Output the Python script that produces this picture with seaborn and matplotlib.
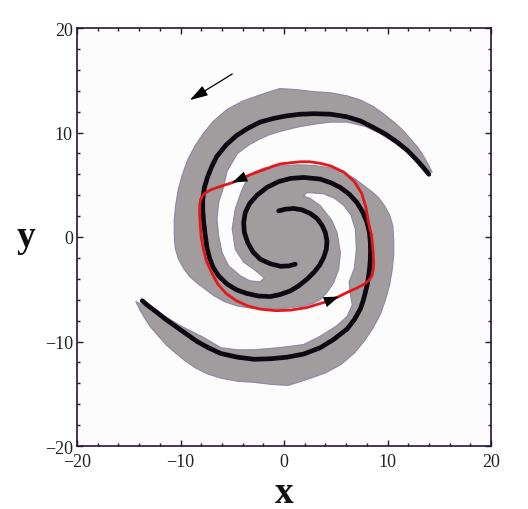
import numpy as np
import pandas as pd
import matplotlib
matplotlib.use("Agg")
import matplotlib.pyplot as plt
from matplotlib.ticker import MultipleLocator
import seaborn as sns

# ---------------- data ----------------
# spiral arm A (black), from the centre outward
arm_a_x = [-0.52, 0.13, 0.93, 1.74, 2.54, 3.19, 3.67, 3.99, 4.15, 4.09, 3.83, 3.44, 2.93, 2.22,
           1.41, 0.61, -0.36, -1.32, -2.45, -3.6, -4.6, -5.5, -6.32, -6.85, -7.2, -7.45, -7.6,
           -7.75, -7.85, -7.85, -7.7, -7.4, -7.0, -6.5, -5.6, -4.6, -3.5, -2.3, -1.0, 0.3, 1.6,
           2.9, 4.5, 6.1, 7.4, 8.6, 9.8, 10.9, 11.9, 12.8, 13.5, 14.0]
arm_a_y = [2.50, 2.66, 2.73, 2.60, 2.25, 1.77, 1.13, 0.43, -0.37, -1.17, -1.96, -2.70, -3.34, -4.04,
           -4.68, -5.16, -5.5, -5.7, -5.65, -5.4, -5.05, -4.5, -3.72, -2.9, -2.0, -1.0, 0.1,
           1.3, 2.5, 3.6, 4.7, 5.7, 6.7, 7.7, 8.8, 9.7, 10.4, 11.0, 11.35, 11.6, 11.75,
           11.8, 11.75, 11.5, 11.1, 10.5, 9.85, 9.1, 8.3, 7.4, 6.6, 6.0]
# spiral arm B (black), from the centre outward
arm_b_x = [1.09, 0.45, -0.36, -1.32, -2.29, -3.0, -3.51, -3.83, -3.9, -3.74, -3.32, -2.61, -1.64,
           -0.52, 0.61, 1.9, 3.5, 4.5, 5.44, 6.3, 7.05, 7.6, 8.02, 8.25, 8.34, 8.36, 8.34, 8.28,
           8.18, 8.05, 7.86, 7.65, 7.37, 6.8, 6.1, 4.8, 3.5, 1.9, 0.3, -1.3, -2.9, -4.5, -6.1,
           -7.3, -8.4, -9.4, -10.4, -11.4, -12.3, -13.1, -13.7]
arm_b_y = [-2.6, -2.77, -2.8, -2.56, -2.13, -1.43, -0.53, 0.43, 1.39, 2.35, 3.2, 4.0, 4.75,
           5.3, 5.6, 5.7, 5.54, 5.2, 4.74, 4.1, 3.3, 2.4, 1.39, 0.45, -0.5, -1.3, -2.13, -2.9,
           -3.72, -4.5, -5.3, -6.1, -6.9, -7.9, -8.8, -9.8, -10.6, -11.2, -11.5, -11.65, -11.7,
           -11.5, -11.15, -10.6, -10.0, -9.3, -8.6, -7.9, -7.2, -6.6, -6.1]

# grey band around arm A: outer edge (tip -> centre) and inner edge (centre -> tip)
band_a_out_x = [14.3, 13.9, 13.5, 12.9, 12.2, 11.4, 10.6, 9.6, 8.6, 7.4, 6.1, 4.5, 2.9, 1.2, -0.4,
                -2.3, -4.0, -5.5, -6.8, -7.8, -8.6, -9.3, -9.8, -10.2, -10.45, -10.6, -10.6, -10.5,
                -10.2, -9.7, -9.1, -8.4, -7.6, -6.8, -5.7, -4.5, -2.9, -1.3, 0.3, 1.9, 2.8, 3.5,
                4.15, 4.8, 5.28, 5.44, 5.12, 4.6, 3.5, 2.5, 1.9]
band_a_out_y = [6.2, 7.0, 7.7, 8.6, 9.4, 10.3, 11.0, 11.8, 12.5, 13.1, 13.5, 13.8, 13.9, 14.1, 14.2,
                13.6, 13.0, 12.2, 11.1, 9.9, 8.7, 7.4, 6.0, 4.6, 3.1, 1.7, 0.3, -1.1,
                -2.1, -3.0, -3.8, -4.4, -5.0, -5.6, -6.2, -6.6, -6.85, -6.9, -6.8, -6.6, -6.35, -6.0,
                -5.3, -4.36, -3.08, -1.48, 0.43, 1.6, 3.0, 3.7, 3.9]
band_a_in_x = [-1.9, -2.3, -3.3, -4.22, -5.35, -5.99, -6.32, -6.48, -6.32, -5.9, -5.5, -4.5, -3.4,
               -2.3, -1.4, -0.4, 1.2, 2.9, 4.5, 6.1, 7.8, 9.3, 10.6, 11.9, 13.1, 14.3]
band_a_in_y = [-3.9, -4.3, -4.2, -3.72, -2.76, -1.5, 0.1, 1.7, 3.3, 4.6, 6.3, 8.0, 8.8,
               9.4, 9.8, 10.1, 10.5, 10.8, 11.0, 11.0, 10.6, 9.9, 9.1, 8.2, 6.9, 6.2]
# grey band around arm B
band_b_out_x = [-14.3, -13.9, -13.5, -12.9, -12.2, -11.4, -10.6, -9.6, -8.6, -7.4, -6.1, -4.5, -2.9,
                -1.2, 0.4, 2.3, 4.0, 5.5, 6.8, 7.8, 8.6, 9.3, 9.8, 10.2, 10.45, 10.6, 10.6, 10.5,
                10.2, 9.7, 9.1, 8.4, 7.6, 6.8, 5.7, 4.5, 2.9, 1.3, -0.3, -1.9, -2.9, -3.5,
                -4.1, -4.7, -5.0, -4.7, -3.9, -2.9, -1.9]
band_b_out_y = [-6.2, -7.0, -7.7, -8.6, -9.4, -10.3, -11.0, -11.8, -12.5, -13.1, -13.5, -13.8, -13.9,
                -14.1, -14.2, -13.6, -13.0, -12.2, -11.1, -9.9, -8.7, -7.4, -6.0, -4.6, -3.1, -1.7,
                -0.3, 1.1, 2.1, 3.0, 3.8, 4.4, 5.0, 5.6, 6.2, 6.6, 6.85, 6.9, 6.8, 6.6, 6.2, 5.7,
                4.4, 2.7, 0.8, -1.2, -2.4, -3.1, -3.9]
band_b_in_x = [1.9, 2.2, 3.8, 4.9, 5.8, 6.47, 6.9, 7.0, 6.8, 6.3, 6.4, 6.6, 6.1, 5.1, 3.5, 1.9,
               -0.5, -2.9, -4.5, -6.1, -7.8, -10.0, -12.0, -14.3]
band_b_in_y = [3.9, 4.25, 4.15, 3.7, 3.0, 2.1, 0.75, -1.17, -3.0, -4.3, -5.4, -6.5, -7.6, -8.5,
               -9.5, -10.3, -10.6, -10.8, -10.8, -10.6, -9.6, -8.5, -7.3, -6.2]

# red closed orbit (counter-clockwise)
orbit_x = [8.45, 8.2, 7.9, 7.5, 6.8, 5.8, 4.5, 3.5, 2.5, 1.6, 0.6, -0.3, -1.0, -1.64, -2.5,
           -3.3, -4.2, -5.0, -5.8, -6.5, -7.0, -7.4, -7.8, -8.05, -8.15, -8.15, -8.1, -8.0,
           -7.8, -7.5, -7.0, -6.4, -5.6, -4.6, -3.5, -2.3, -0.8, 0.6, 2.2, 3.9, 5.2, 6.1,
           7.0, 7.7, 8.2, 8.5, 8.62, 8.66, 8.62, 8.55, 8.45]
orbit_y = [0.2, 1.2, 2.9, 4.2, 5.3, 6.2, 6.8, 7.05, 7.2, 7.2, 7.1, 7.0, 6.8, 6.55, 6.25,
           5.95, 5.55, 5.2, 4.95, 4.72, 4.55, 4.35, 4.05, 3.6, 3.0, 2.2, 1.2, 0.0,
           -1.1, -2.3, -3.4, -4.5, -5.4, -6.1, -6.6, -6.9, -7.05, -7.0, -6.75, -6.25, -5.75, -5.3,
           -4.9, -4.55, -4.15, -3.7, -3.1, -2.4, -1.6, -0.7, 0.2]
# arrowheads on the orbit: (tail, tip)
orbit_arrows = [((-3.5, 5.87), (-5.0, 5.2)), ((3.9, -6.25), (5.3, -5.7))]
# rotation arrow (tail, tip)
rot_arrow = ((-5.0, 15.6), (-9.1, 13.1))

ticks = [-20, -10, 0, 10, 20]
tick_labels = ["\u221220", "\u221210", "0", "10", "20"]

# ---------------- style ----------------
sns.set_theme(style="ticks")
plt.rcParams["font.family"] = ["Liberation Serif", "DejaVu Serif"]

frame_col = "#26143a"
grey = "#a19d9e"
fringe = "#7f6fae"
arm_col = "#0d0812"
red = "#e4171b"

fig = plt.figure(figsize=(5.28, 5.10), dpi=100)
ax = fig.add_axes([77 / 528, 63 / 510, 414 / 528, 418 / 510])
ax.set_facecolor("#fcfcfd")

# grey bands
for ox, oy, ix, iy in [(band_a_out_x, band_a_out_y, band_a_in_x, band_a_in_y),
                       (band_b_out_x, band_b_out_y, band_b_in_x, band_b_in_y)]:
    px = np.concatenate([ox, ix])
    py = np.concatenate([oy, iy])
    ax.fill(px, py, facecolor=grey, edgecolor=grey, lw=0.8, zorder=1)
    ax.plot(ox, oy, color=fringe, lw=0.8, alpha=0.45, zorder=1.5)
    ax.plot(ix, iy, color=fringe, lw=0.8, alpha=0.45, zorder=1.5)

# black spiral arms
arms = pd.concat([
    pd.DataFrame({"x": arm_a_x, "y": arm_a_y, "arm": "A"}),
    pd.DataFrame({"x": arm_b_x, "y": arm_b_y, "arm": "B"}),
])
sns.lineplot(data=arms, x="x", y="y", units="arm", estimator=None, sort=False,
             color=arm_col, lw=3.4, ax=ax, zorder=3, solid_capstyle="round",
             solid_joinstyle="round", legend=False)

# red orbit
sns.lineplot(x=orbit_x, y=orbit_y, sort=False, estimator=None, color=red, lw=2.0,
             ax=ax, zorder=4, solid_joinstyle="round")

for tail, tip in orbit_arrows:
    ax.annotate("", xy=tip, xytext=tail, zorder=5,
                arrowprops=dict(arrowstyle="-|>,head_length=0.9,head_width=0.32",
                                mutation_scale=12, color="black", lw=0,
                                shrinkA=0, shrinkB=0))

ax.annotate("", xy=rot_arrow[1], xytext=rot_arrow[0], zorder=5,
            arrowprops=dict(arrowstyle="-|>,head_length=1.0,head_width=0.3",
                            mutation_scale=11, color="black", lw=0.9,
                            shrinkA=0, shrinkB=0))

# axes
ax.set_xlim(-20, 20)
ax.set_ylim(-20, 20)
ax.set_xticks(ticks)
ax.set_xticklabels(tick_labels)
ax.set_yticks(ticks)
ax.set_yticklabels(tick_labels)
ax.xaxis.set_minor_locator(MultipleLocator(2))
ax.yaxis.set_minor_locator(MultipleLocator(2))
ax.tick_params(which="both", direction="in", top=True, right=True, color=frame_col,
               labelcolor="#222222", labelsize=13)
ax.tick_params(which="major", length=4, width=1.0)
ax.tick_params(which="minor", length=2.5, width=1.0)
ax.tick_params(axis="x", pad=5)
ax.tick_params(axis="y", pad=3)
for s in ax.spines.values():
    s.set_color(frame_col)
    s.set_linewidth(1.2)
    s.set_visible(True)

ax.set_xlabel("x", fontsize=27, fontweight="bold", color="#111111")
ax.set_ylabel("y", fontsize=27, fontweight="bold", color="#111111", rotation=0)
ax.xaxis.label.set_va("baseline")
ax.xaxis.set_label_coords(0.5, -(503 - 447) / 418)
ax.yaxis.label.set_va("baseline")
ax.yaxis.label.set_ha("center")
ax.yaxis.set_label_coords((26 - 77) / 414, (447 - 247) / 418)

fig.savefig("out.png", dpi=100, facecolor="white")
